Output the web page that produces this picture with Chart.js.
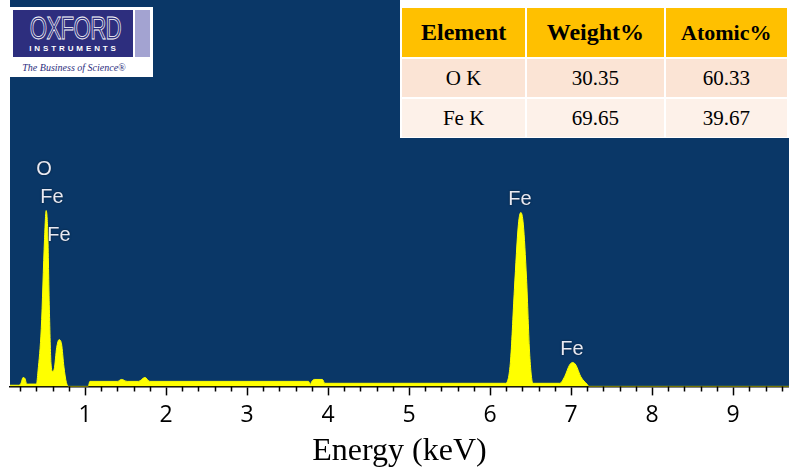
<!doctype html>
<html>
    <head>
        <meta charset="utf-8"/>
        <title>EDS spectrum</title>
        <script src="https://cdn.jsdelivr.net/npm/chart.js@4.4.1/dist/chart.umd.min.js"></script>
        <style>
            body { margin: 0; background: #fff; }
            #wrap { position: relative; width: 789px; height: 468px; overflow: hidden; }
            #spectrum { position: absolute; left: 0; top: 0; }

            #logo { position: absolute; left: 10px; top: 7px; width: 143px; height: 70px; background: #fff; }
            #logo .navy { position: absolute; left: 3px; top: 3px; width: 120px; height: 47px; background: #2d2e7e; }
            #logo .bar { position: absolute; left: 125px; top: 3px; width: 15px; height: 47px; background: #a3a3d1; }
            #logo .oxford { position: absolute; left: 3px; top: 6px; width: 120px; text-align: center;
                font: 31px "Liberation Sans", Arial, sans-serif; line-height: 31px; color: transparent;
                -webkit-text-stroke: 0.8px #fff; transform: scaleX(0.72); letter-spacing: -1px; }
            #logo .instr { position: absolute; left: 3px; top: 37px; width: 122px; text-align: center;
                font: bold 8px "Liberation Sans", Arial, sans-serif; letter-spacing: 2.9px; color: #fff; }
            #logo .tag { position: absolute; left: 3px; top: 55px; width: 122px; text-align: center;
                font: italic 10px "Liberation Serif", "Times New Roman", serif; color: #2d2e7e; }

            #results { position: absolute; left: 400px; top: 0; width: 389px; height: 138px; background: #fff; overflow: hidden; }
            #results table { position: absolute; left: 0; top: 6px; border-spacing: 2px; font-family: "Liberation Serif", "Times New Roman", serif; }
            #results td { padding: 0; text-align: center; color: #000; }
            #results tr.head td { background: #ffc000; height: 49px; font-weight: bold; font-size: 24px; }
            #results tr.r1 td { background: #fbe4d5; height: 38px; font-size: 21px; }
            #results tr.r2 td { background: #fdf1e9; height: 38px; font-size: 21px; }
        </style>
    </head>
    <body>
        <div id="wrap">
            <canvas id="spectrum" width="789" height="468"></canvas>

            <div id="logo">
                <div class="navy"></div>
                <div class="bar"></div>
                <div class="oxford">OXFORD</div>
                <div class="instr">INSTRUMENTS</div>
                <div class="tag">The Business of Science®</div>
            </div>

            <div id="results">
                <table>
                    <tr class="head">
                        <td style="width:124px">Element</td>
                        <td style="width:137px">Weight%</td>
                        <td style="width:122px;font-size:22px">Atomic%</td>
                    </tr>
                    <tr class="r1"><td id="el0"></td><td id="wt0"></td><td id="at0"></td></tr>
                    <tr class="r2"><td id="el1"></td><td id="wt1"></td><td id="at1"></td></tr>
                </table>
            </div>
        </div>

        <script>
            // quantification results
            var elements = ['O K', 'Fe K'];
            var weightPct = ['30.35', '69.65'];
            var atomicPct = ['60.33', '39.67'];

            // spectrum: energy (keV) and counts
            var energyKeV = [0.074, 0.18, 0.21, 0.235, 0.26, 0.28, 0.30, 0.40, 0.42, 0.46,
                             0.50, 0.52, 0.54, 0.56, 0.58, 0.60, 0.62, 0.65, 0.68, 0.71,
                             0.74, 0.77, 0.80, 1.04, 1.06, 1.40, 1.45, 1.52, 1.66, 1.74,
                             1.80, 3.76, 3.78, 3.80, 3.83, 3.93, 3.96, 6.19, 6.25, 6.30,
                             6.35, 6.38, 6.41, 6.45, 6.49, 6.53, 6.86, 6.92, 6.98, 7.02,
                             7.06, 7.12, 7.20, 7.22, 9.69];
            var counts = [3, 3, 8, 23, 20, 6, 6, 6, 40, 150,
                          380, 455, 400, 200, 60, 39, 45, 100, 121, 110,
                          50, 10, 0, 0, 13, 13, 18, 13, 13, 23,
                          13, 13, 5, 13, 18, 18, 8, 8, 60, 250,
                          420, 450, 420, 280, 80, 8, 8, 25, 55, 62,
                          55, 25, 5, 0, 0];

            // x axis
            var xMin = 0.074, xMax = 9.69;
            var majorTicks = [1, 2, 3, 4, 5, 6, 7, 8, 9];

            // peak identification labels (keV, counts)
            var peakNames = ['O', 'Fe', 'Fe', 'Fe', 'Fe'];
            var peakKeV = [0.494, 0.593, 0.679, 6.37, 7.01];
            var peakAt = [561, 488, 390, 483, 96];

            for (var i = 0; i < elements.length; i++) {
                document.getElementById('el' + i).textContent = elements[i];
                document.getElementById('wt' + i).textContent = weightPct[i];
                document.getElementById('at' + i).textContent = atomicPct[i];
            }

            var plotBackground = {
                id: 'plotBackground',
                beforeDraw: function(chart) {
                    var a = chart.chartArea, ctx = chart.ctx;
                    ctx.save();
                    ctx.fillStyle = '#0a3767';
                    ctx.fillRect(a.left, a.top, a.right - a.left, a.bottom - a.top);
                    ctx.restore();
                }
            };

            var minorTicks = {
                id: 'minorTicks',
                afterDraw: function(chart) {
                    var x = chart.scales.x, ctx = chart.ctx;
                    var y0 = chart.chartArea.bottom;
                    ctx.save();
                    ctx.strokeStyle = '#000';
                    ctx.lineWidth = 1.5;
                    ctx.beginPath();
                    for (var k = 1; k * 0.2 < xMax; k++) {
                        if (k % 5 === 0) continue;
                        var px = Math.round(x.getPixelForValue(k * 0.2)) + 0.5;
                        ctx.moveTo(px, y0);
                        ctx.lineTo(px, y0 + 5);
                    }
                    ctx.stroke();
                    ctx.restore();
                }
            };

            var peakLabels = {
                id: 'peakLabels',
                afterDatasetsDraw: function(chart) {
                    var ctx = chart.ctx;
                    ctx.save();
                    ctx.font = '20px "Liberation Sans", Arial, sans-serif';
                    ctx.textAlign = 'center';
                    ctx.textBaseline = 'middle';
                    ctx.shadowColor = 'rgba(0,0,0,0.6)';
                    ctx.shadowBlur = 2;
                    ctx.fillStyle = '#e8e9f2';
                    for (var j = 0; j < peakNames.length; j++) {
                        ctx.fillText(peakNames[j],
                            chart.scales.x.getPixelForValue(peakKeV[j]),
                            chart.scales.y.getPixelForValue(peakAt[j]));
                    }
                    ctx.restore();
                }
            };

            var points = energyKeV.map(function(e, i) { return { x: e, y: counts[i] }; });

            new Chart(document.getElementById('spectrum'), {
                type: 'line',
                data: {
                    datasets: [{
                        data: points,
                        borderColor: '#ffff00',
                        backgroundColor: '#ffff00',
                        borderWidth: 1,
                        pointRadius: 0,
                        fill: 'origin',
                        cubicInterpolationMode: 'monotone'
                    }]
                },
                options: {
                    responsive: false,
                    animation: false,
                    devicePixelRatio: 1,
                    layout: { padding: { left: 10, right: 0, top: 0, bottom: 0 } },
                    plugins: { legend: { display: false }, tooltip: { enabled: false } },
                    scales: {
                        x: {
                            type: 'linear',
                            min: xMin,
                            max: xMax,
                            afterBuildTicks: function(scale) {
                                scale.ticks = majorTicks.map(function(v) { return { value: v }; });
                            },
                            ticks: {
                                color: '#000',
                                padding: 6,
                                maxRotation: 0,
                                autoSkip: false,
                                font: { family: '"Open Sans", "Liberation Sans", sans-serif', size: 23 }
                            },
                            grid: {
                                display: true,
                                drawOnChartArea: false,
                                drawTicks: true,
                                tickLength: 9,
                                tickColor: '#000',
                                tickWidth: 1.5
                            },
                            border: { display: true, color: '#000', width: 1.5 },
                            title: {
                                display: true,
                                text: 'Energy (keV)',
                                color: '#000',
                                padding: { top: 1, bottom: 0 },
                                font: { family: '"Liberation Serif", "Times New Roman", serif', size: 32, lineHeight: 1 }
                            }
                        },
                        y: {
                            display: false,
                            min: 0,
                            max: 1000
                        }
                    }
                },
                plugins: [plotBackground, minorTicks, peakLabels]
            });
        </script>
    </body>
</html>
